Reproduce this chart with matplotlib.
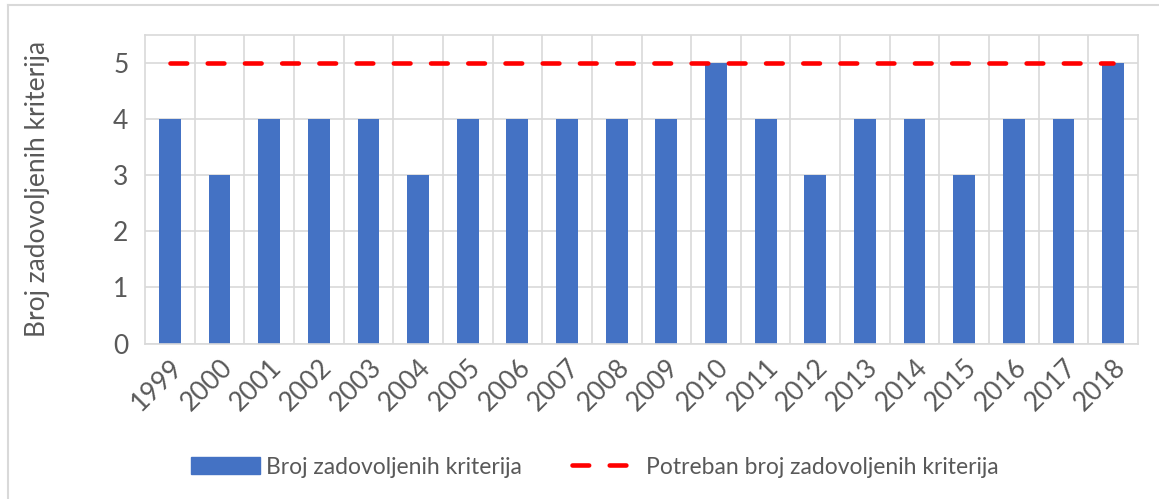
import matplotlib
matplotlib.use("Agg")
import matplotlib.pyplot as plt
from matplotlib.patches import Rectangle
from matplotlib.lines import Line2D

years = ["1999", "2000", "2001", "2002", "2003", "2004", "2005", "2006", "2007", "2008",
         "2009", "2010", "2011", "2012", "2013", "2014", "2015", "2016", "2017", "2018"]
satisfied = [4, 3, 4, 4, 4, 3, 4, 4, 4, 4, 4, 5, 4, 3, 4, 4, 3, 4, 4, 5]
required = [5] * len(years)

bar_color = "#4472C4"
line_color = "#FF0000"
grid_color = "#D9D9D9"
text_color = "#595959"

plt.rcParams['font.family'] = ['Lato', 'DejaVu Sans']
plt.rcParams['lines.scale_dashes'] = False

fig = plt.figure(figsize=(11.59, 4.99), dpi=100)
ax = fig.add_axes([145/1159, 1 - 343.5/499, (1138-145)/1159, (343.5-35)/499])

x = list(range(len(years)))
ax.bar(x, satisfied, width=0.44, color=bar_color, zorder=2, label="Broj zadovoljenih kriterija")
ax.plot(x, required, color=line_color, linewidth=3.3, dashes=(12, 14.8),
        dash_capstyle='round', zorder=3, label="Potreban broj zadovoljenih kriterija")

ax.set_xlim(-0.5, len(years) - 0.5)
ax.set_ylim(0, 5.5)
ax.set_yticks([0, 1, 2, 3, 4, 5])
ax.set_xticks(x)
ax.set_xticklabels(years, rotation=45, ha='right', rotation_mode='anchor')
ax.set_xticks([i + 0.5 for i in x[:-1]], minor=True)

ax.grid(axis='y', which='major', color=grid_color, linewidth=1.2, zorder=0)
ax.grid(axis='x', which='minor', color=grid_color, linewidth=1.2, zorder=0)
for s in ax.spines.values():
    s.set_color(grid_color)
    s.set_linewidth(1.2)
ax.tick_params(axis='both', which='both', length=0, colors=text_color, labelsize=19)
ax.tick_params(axis='y', pad=12)
ax.tick_params(axis='x', pad=8)
ax.set_ylabel("Broj zadovoljenih kriterija", color=text_color, fontsize=19)
ax.yaxis.set_label_coords(-95/993, 0.5)

handles = [Rectangle((0, 0), 1, 1, color=bar_color),
           Line2D([0], [0], color=line_color, linewidth=3.3, dashes=(12, 14.8), dash_capstyle='round')]
leg = fig.legend(handles, ["Broj zadovoljenih kriterija", "Potreban broj zadovoljenih kriterija"],
                 loc='center', bbox_to_anchor=(595/1159, 1 - 467/499), ncol=2, frameon=False,
                 fontsize=16.5, labelcolor=text_color, handlelength=3.0, handleheight=0.7,
                 columnspacing=2.2, handletextpad=0.25)

# outer chart border
fig.add_artist(Line2D([8/1159, 8/1159], [0, 1 - 5/499], color=grid_color, linewidth=1.5, transform=fig.transFigure))
fig.add_artist(Line2D([8/1159, 1], [1 - 5/499, 1 - 5/499], color=grid_color, linewidth=1.5, transform=fig.transFigure))

fig.savefig("out.png", dpi=100, facecolor='white')
